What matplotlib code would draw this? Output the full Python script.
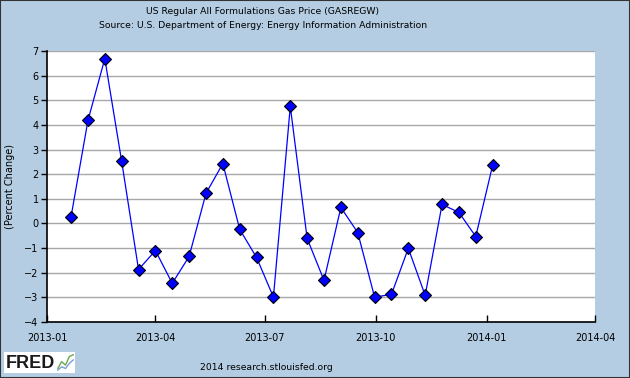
import pandas as pd
import matplotlib.pyplot as plt
import matplotlib.dates as mdates
from matplotlib.patches import Rectangle

# Biweekly observations, percent change
dates = ['2013-01-21', '2013-02-04', '2013-02-18', '2013-03-04', '2013-03-18',
         '2013-04-01', '2013-04-15', '2013-04-29', '2013-05-13', '2013-05-27',
         '2013-06-10', '2013-06-24', '2013-07-08', '2013-07-22', '2013-08-05',
         '2013-08-19', '2013-09-02', '2013-09-16', '2013-09-30', '2013-10-14',
         '2013-10-28', '2013-11-11', '2013-11-25', '2013-12-09', '2013-12-23',
         '2014-01-06']
pct_change = [0.28, 4.18, 6.69, 2.52, -1.87, -1.10, -2.43, -1.34, 1.22, 2.43,
              -0.24, -1.38, -2.99, 4.75, -0.61, -2.31, 0.65, -0.37, -2.99, -2.88,
              -1.01, -2.92, 0.77, 0.45, -0.53, 2.36]
x_ticks = ['2013-01', '2013-04', '2013-07', '2013-10', '2014-01', '2014-04']
y_ticks = list(range(-4, 8))

bg = '#B4CDE3'
x = pd.to_datetime(dates)

fig = plt.figure(figsize=(6.3, 3.78), dpi=100, facecolor=bg)
ax = fig.add_axes([47 / 630, 56 / 378, 548 / 630, 271 / 378])
ax.set_facecolor('white')

ax.plot(x, pct_change, color='#0000FF', linewidth=0.9, marker='D', markersize=6.3,
        markerfacecolor='#0000FF', markeredgecolor='black', markeredgewidth=0.8, zorder=3)

ax.set_xlim(pd.Timestamp('2013-01-01'), pd.Timestamp('2014-04-01'))
ax.set_ylim(-4, 7)
ax.set_xticks(pd.to_datetime(x_ticks))
ax.xaxis.set_major_formatter(mdates.DateFormatter('%Y-%m'))
ax.set_yticks(y_ticks)
ax.yaxis.grid(True, color='#A8A8A8', linewidth=1)
ax.set_axisbelow(True)

for side in ['top', 'right']:
    ax.spines[side].set_visible(False)
ax.spines['left'].set_linewidth(1.2)
ax.spines['bottom'].set_linewidth(1.2)
ax.tick_params(axis='x', direction='in', length=5, width=1, labelsize=7, pad=8, colors='black')
ax.tick_params(axis='y', direction='out', length=4, width=1, labelsize=7, pad=2)
ax.set_ylabel('(Percent Change)', fontsize=7)
ax.yaxis.set_label_coords(-32 / 548, 0.5)

fig.text(263 / 630, 1 - 12 / 378, 'US Regular All Formulations Gas Price (GASREGW)',
         ha='center', va='center', fontsize=6.7)
fig.text(263 / 630, 1 - 25 / 378, 'Source: U.S. Department of Energy: Energy Information Administration',
         ha='center', va='center', fontsize=6.7)
fig.text(266 / 630, 1 - 367 / 378, '2014 research.stlouisfed.org',
         ha='center', va='center', fontsize=6.7)

# FRED logo
fig.patches.append(Rectangle((4 / 630, 5 / 378), 71 / 630, 21 / 378, transform=fig.transFigure,
                             facecolor='white', edgecolor='none', zorder=0))
fig.text(6 / 630, 1 - 363.5 / 378, 'FRED', ha='left', va='center', fontsize=13,
         fontweight='bold', color='#1a1a1a', family='Liberation Sans')
icon = fig.add_axes([57 / 630, 7 / 378, 17 / 630, 17 / 378], zorder=5)
icon.patch.set_alpha(0)
icon.plot([0, 1, 2, 3, 4], [0.2, 0.6, 0.4, 0.9, 1.0], color='#6aa84f', linewidth=1)
icon.plot([0, 1, 2, 3, 4], [0.1, 0.3, 0.2, 0.5, 0.7], color='#7b9fd0', linewidth=1)
icon.set_xticks([])
icon.set_yticks([])
for s in icon.spines.values():
    s.set_visible(False)

fig.patches.append(Rectangle((0, 0), 1, 1, transform=fig.transFigure, fill=False,
                             edgecolor='#333333', linewidth=1.5))

fig.savefig('out.png', dpi=100, facecolor=bg)
